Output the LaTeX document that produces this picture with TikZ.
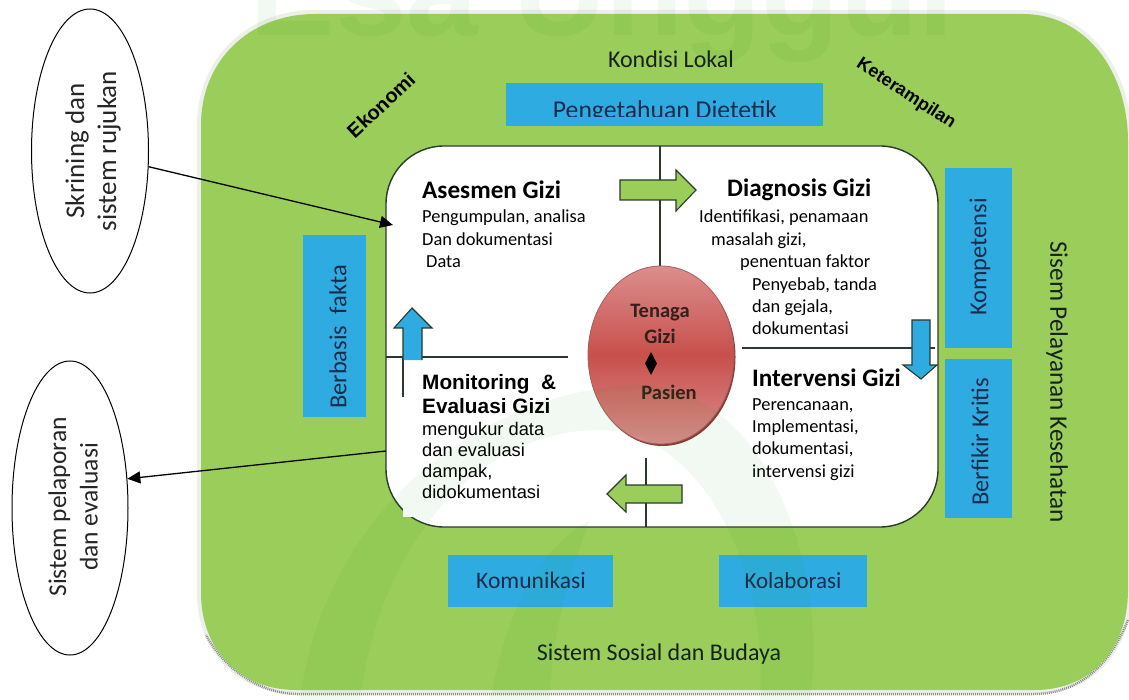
\documentclass[tikz,border=0pt]{standalone}
\usepackage{fontspec}
\setmainfont{Carlito}
\newfontfamily\arialf{Liberation Sans}
\usetikzlibrary{shapes.geometric,arrows.meta}
\definecolor{leaf}{HTML}{9ACD5A}
\definecolor{sky}{HTML}{2EACE2}
\definecolor{navy}{HTML}{1B2B4B}
\definecolor{ink}{HTML}{16221A}
\definecolor{edge}{HTML}{2A3A2C}
\definecolor{halo}{HTML}{EDF0EA}
\definecolor{hubpale}{HTML}{DB8E8E}
\definecolor{hubmid}{HTML}{C8504C}
\definecolor{hubdark}{HTML}{8E3A3A}
\definecolor{hubtext}{HTML}{33201C}
\newcommand{\fs}[1]{\fontsize{#1}{#1}\selectfont}
\tikzset{
  x=1pt,y=-1pt,
  bluebox/.style={fill=sky,draw=none},
  boxtext/.style={text=navy,font=\fs{24.5},inner sep=0},
  fieldtext/.style={text=ink,font=\fs{24},inner sep=0},
  heading/.style={text=black,font=\bfseries\fs{25.2},inner sep=0,anchor=west},
  body/.style={text=black,font=\fs{18.4},inner sep=0,anchor=north west,align=left},
  armbody/.style={text=black,font=\arialf\fs{18.3},inner sep=0,anchor=north west,align=left},
  armhead/.style={text=black,font=\arialf\bfseries\fs{20.8},inner sep=0,anchor=north west,align=left},
  tilted/.style={text=black,font=\arialf\bfseries\fs{18},inner sep=0},
  sideoval/.style={ellipse,draw=black,line width=1pt,fill=white,inner sep=0,align=center,text=black!85},
  divider/.style={draw=edge,line width=1.1pt},
  greenarrow/.style={fill=leaf,draw=edge,line width=1.1pt},
  bluearrow/.style={fill=sky,draw=edge,line width=1.1pt},
  link/.style={draw=black,line width=1.3pt,-{Triangle[length=13pt,width=12pt]}},
  core/.style={text=hubtext,font=\bfseries\fs{20.5},inner sep=0},
}
\begin{document}
\begin{tikzpicture}
\useasboundingbox (0,0) rectangle (1129,700);
\fill[white] (0,0) rectangle (1129,700);
\clip (0,0) rectangle (1129,700);
% outer field: halo, worn lower edge, fill
\draw[halo,line width=8pt] (201,125) .. controls (201,60) and (250,14) .. (315,14) -- (1023,14) .. controls (1085,14) and (1128,70) .. (1128,142) -- (1128,590) .. controls (1128,650) and (1090,690) .. (1035,690) -- (296,690) .. controls (240,690) and (201,650) .. (201,593) -- cycle;
\draw[black!45,line width=2.5pt,dash pattern=on 1pt off 1pt] (1128,620) .. controls (1110,665) and (1080,693) .. (1035,694) -- (296,694) .. controls (260,693) and (225,670) .. (206,635);
\fill[leaf] (201,125) .. controls (201,60) and (250,14) .. (315,14) -- (1023,14) .. controls (1085,14) and (1128,70) .. (1128,142) -- (1128,590) .. controls (1128,650) and (1090,690) .. (1035,690) -- (296,690) .. controls (240,690) and (201,650) .. (201,593) -- cycle;
% inner panel
\node[draw=edge,line width=1.4pt,fill=white,rounded corners=58pt,minimum width=552pt,minimum height=381pt,inner sep=0] (panel) at (662,336.5) {};
\fill[white] (403,496) rectangle (424,517);
% dividers
\coordinate (topcut) at (660,146);
\coordinate (botcut) at (646,527);
\coordinate (leftcut) at (386,357);
\coordinate (rightcut) at (935,348);
\coordinate (hubL) at (568,357);
\coordinate (hubR) at (742,348);
\coordinate (hubB) at (646,458);
\coordinate (hubT) at (660,266);
\path[divider] (topcut) -- (hubT);
\path[divider] (hubB) -- (botcut);
\path[divider] (leftcut) -- (hubL);
\path[divider] (hubR) -- (rightcut);
\coordinate (tickT) at (403,357);
\coordinate (tickB) at (403,397);
\path[divider] (tickT) -- (tickB);
% hub
\fill[hubdark] (662.5,357) ellipse [x radius=73, y radius=89];
\node[ellipse,minimum width=146pt,minimum height=178pt,inner sep=0,draw=hubdark!80,line width=.8pt,top color=hubpale,bottom color=hubpale,middle color=hubmid] (hub) at (661,355) {};
\node[core] (tenaga) at (660,313) {Tenaga};
\node[core] (gizi) at (660,336) {Gizi};
\node[diamond,fill=black,inner sep=0,minimum width=12pt,minimum height=23pt,aspect=.5] (dia) at (651,363.5) {};
\node[core] (pasien) at (669,392) {Pasien};
% arrows on the panel
\draw[greenarrow] (620,180) -- (676,180) -- (676,170) -- (696,190) -- (676,211) -- (676,200) -- (620,200) -- cycle;
\draw[greenarrow] (682,485) -- (626,485) -- (626,475) -- (607,494) -- (626,512) -- (626,503) -- (682,503) -- cycle;
\fill[sky] (403,360) -- (403,328) -- (394,328) -- (412,308) -- (432,328) -- (422,328) -- (422,360) -- cycle;
\draw[edge,line width=1.1pt] (403,360) -- (403,328) -- (394,328) -- (412,308) -- (432,328) -- (422,328) -- (422,360);
\draw[bluearrow] (912,320) -- (930,320) -- (930,365) -- (937,365) -- (921,379) -- (903,365) -- (912,365) -- cycle;
% panel text
\node[heading] (ases) at (422,190) {Asesmen Gizi};
\node[body] (asest) at (422,210) {Pengumpulan, analisa\\[4pt]Dan dokumentasi\\[4pt]\hspace*{4pt}Data};
\node[heading] (diag) at (727,190) {Diagnosis Gizi};
\node[body] (diagt) at (699,210) {Identifikasi, penamaan\\[4pt]\hspace*{12pt}masalah gizi,\\[4pt]\hspace*{41pt}penentuan faktor\\[4pt]\hspace*{53pt}Penyebab, tanda\\[4pt]\hspace*{53pt}dan gejala,\\[4pt]\hspace*{53pt}dokumentasi};
\node[heading] (inter) at (752,378) {Intervensi Gizi};
\node[body] (intert) at (752,398) {Perencanaan,\\[4pt]Implementasi,\\[4pt]dokumentasi,\\[4pt]intervensi gizi};
\node[armhead] (moni) at (422,374) {Monitoring\ \ \&\\[3.2pt]Evaluasi Gizi};
\node[armbody] (monit) at (422,422) {mengukur data\\[2.7pt]dan evaluasi\\[2.7pt]dampak,\\[2.7pt]didokumentasi};
% blue boxes
\fill[bluebox] (506,83) rectangle (823,126);
\begin{scope}
\clip (506,83) rectangle (823,117);
\node[boxtext,font=\fs{25.7},anchor=base] (peng) at (665,119) {Pengetahuan Dietetik};
\end{scope}
\fill[bluebox] (945,168) rectangle (1012,348);
\node[boxtext,rotate=90] (komp) at (980,257) {Kompetensi};
\fill[bluebox] (945,359) rectangle (1012,518);
\node[boxtext,rotate=90] (berf) at (980,442) {Berfikir Kritis};
\fill[bluebox] (303,235) rectangle (366,417);
\node[boxtext,rotate=90] (berb) at (338,337) {Berbasis\ \ fakta};
\fill[bluebox] (448,555) rectangle (613,607);
\node[boxtext,font=\fs{23.6}] (komu) at (531,580) {Komunikasi};
\fill[bluebox] (719,555) rectangle (867,607);
\node[boxtext,font=\fs{23}] (kola) at (793,581) {Kolaborasi};
% field labels
\node[fieldtext] (lokal) at (671,59) {Kondisi Lokal};
\node[fieldtext] (sosial) at (659,654) {Sistem Sosial dan Budaya};
\node[fieldtext,font=\fs{25.2},rotate=-90] (layan) at (1057,382) {Sisem Pelayanan Kesehatan};
\node[tilted,font=\arialf\bfseries\fs{20},rotate=43] (eko) at (381,105) {Ekonomi};
\node[tilted,rotate=-33] (ket) at (906,94) {Keterampilan};
% side ovals and links
\node[sideoval,minimum width=117pt,minimum height=284pt] (skr) at (90,151) {};
\node[text=black!85,font=\fs{27},rotate=90,align=center,inner sep=0] (skrt) at (93,151) {Skrining dan\\[5pt]sistem rujukan};
\node[sideoval,minimum width=116pt,minimum height=294pt] (lap) at (70,508) {};
\node[text=black!85,font=\fs{25.5},rotate=90,align=center,inner sep=0] (lapt) at (73,507) {Sistem pelaporan\\[6pt]dan evaluasi};
\coordinate (inlet) at (393,225);
\coordinate (outlet) at (386,451);
\path[link] (skr.-15) -- (inlet);
\path[link] (outlet) -- (lap.27);
% faint watermark
\begin{scope}[opacity=.05]
\node[inner sep=0,anchor=base,text=black!50!green,font=\arialf\bfseries\fs{128}] (wm) at (602,36) {Esa Unggul};
\fill[black!40!green] (300,700) .. controls (330,480) and (520,385) .. (640,385) .. controls (760,385) and (830,560) .. (810,700) -- (760,700) .. controls (770,570) and (700,430) .. (600,430) .. controls (480,430) and (380,540) .. (360,700) -- cycle;
\fill[black!40!green] (490,700) .. controls (510,600) and (540,550) .. (590,520) .. controls (570,570) and (550,640) .. (550,700) -- cycle;
\end{scope}
\end{tikzpicture}
\end{document}
